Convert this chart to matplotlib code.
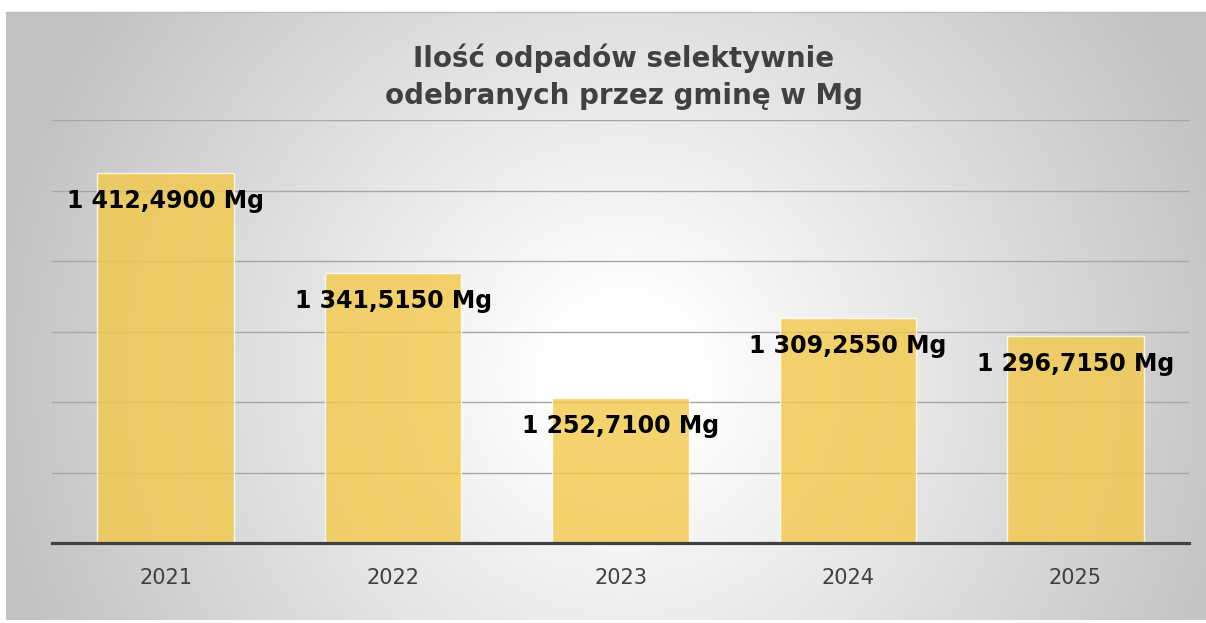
import matplotlib.pyplot as plt
import numpy as np

years = ["2021", "2022", "2023", "2024", "2025"]
amounts = [1412.49, 1341.515, 1252.71, 1309.255, 1296.715]
labels = ["1 412,4900 Mg", "1 341,5150 Mg", "1 252,7100 Mg", "1 309,2550 Mg", "1 296,7150 Mg"]
title = "Ilość odpadów selektywnie\nodebranych przez gminę w Mg"

W, H = 1206, 623
fig = plt.figure(figsize=(W / 100, H / 100), dpi=100)

# gray panel with a radial gradient, white around the middle
bg = fig.add_axes([6 / W, 3 / H, 1 - 6 / W, (620 - 12) / H])
yy, xx = np.mgrid[-1:1:300j, -1:1:600j]
r = np.sqrt((xx - 0.03) ** 2 + (0.5 * (yy + 0.2)) ** 2)
t = np.clip((r - 0.12) / 0.95, 0, 1)
shade = 1.0 - 0.24 * t
bg.imshow(np.dstack([shade] * 3), aspect="auto", extent=[0, 1, 0, 1], origin="lower")
bg.set_axis_off()
fig.add_artist(plt.Line2D([6 / W, 1], [1 - 12 / H] * 2, color="#bdbdbd", lw=1))

ax = fig.add_axes([52 / W, (H - 543) / H, (1189 - 52) / W, (543 - 120) / H])
ax.patch.set_alpha(0)
x = np.arange(len(years))
ax.bar(x, amounts, width=0.6, color="#F3C94A", alpha=0.8,
       edgecolor="white", linewidth=1, zorder=2)
ax.set_xlim(-0.5, 4.5)
ax.set_ylim(1150, 1450)
ax.set_yticks(np.arange(1150, 1451, 50))
ax.yaxis.grid(True, color="#a6a6a6", lw=1, zorder=0)
ax.set_axisbelow(True)
ax.tick_params(axis="y", left=False, labelleft=False)
ax.set_xticks(x, years)
ax.tick_params(axis="x", length=0, pad=18, labelsize=15, labelcolor="#404040")
for s in ["left", "right", "top"]:
    ax.spines[s].set_visible(False)
ax.spines["bottom"].set_color("#404040")
ax.spines["bottom"].set_linewidth(2.3)
ax.spines["bottom"].set_zorder(3)

for xi, v, lab in zip(x, amounts, labels):
    ax.annotate(lab, (xi, v), xytext=(0, -20), textcoords="offset points",
                ha="center", va="center", fontsize=17, fontweight="bold",
                color="black", zorder=4)

fig.text(624 / W, 1 - 77 / H, title, ha="center", va="center",
         fontsize=20, fontweight="bold", color="#404040", linespacing=1.4)

fig.savefig("out.png", dpi=100)
